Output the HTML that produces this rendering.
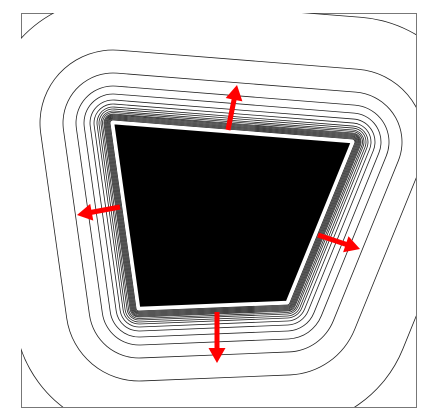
<!DOCTYPE html>
<html><head><meta charset="utf-8"><style>
html,body{margin:0;padding:0;background:#fff;}
svg{display:block;}
</style></head><body>
<svg id="fig" width="437" height="417" viewBox="0 0 437 417" xmlns="http://www.w3.org/2000/svg">
<defs><clipPath id="clip"><rect x="21" y="13" width="395" height="394"/></clipPath></defs>
<rect x="21.5" y="13.5" width="395" height="394" fill="#fff" stroke="#777" stroke-width="1"/>
<g id="contours" clip-path="url(#clip)"></g>
<g id="arrows"></g>
</svg>
<script>
const vertsX = [113, 352, 287, 139];
const vertsY = [123, 142, 302, 308];
const offsets = [125, 73, 50, 37, 29, 23, 19, 16, 14, 12, 10.5, 9, 8, 7, 6, 5, 4, 3];
const arrowFromX = [228, 120, 318, 217];
const arrowFromY = [130, 207, 235, 312];
const arrowToX = [237, 77, 360, 217];
const arrowToY = [85, 215, 249, 363];
const NS = 'http://www.w3.org/2000/svg';
const pts = vertsX.map((x, i) => x + ',' + vertsY[i]).join(' ');
const g = document.getElementById('contours');
offsets.slice().sort((a, b) => b - a).forEach((d, i) => {
  const outer = document.createElementNS(NS, 'polygon');
  
  
  outer.setAttribute('points', pts);
  outer.setAttribute('fill', '#222');
  outer.setAttribute('stroke', '#222');
  outer.setAttribute('stroke-linejoin', 'round');
  outer.setAttribute('stroke-width', 2 * d + 0.8);
  g.appendChild(outer);
  const inner = document.createElementNS(NS, 'polygon');
  
  
  inner.setAttribute('points', pts);
  inner.setAttribute('fill', '#fff');
  inner.setAttribute('stroke', '#fff');
  inner.setAttribute('stroke-linejoin', 'round');
  inner.setAttribute('stroke-width', Math.max(2 * d - 0.8, 0));
  g.appendChild(inner);
});
const shape = document.createElementNS(NS, 'polygon');


shape.setAttribute('points', pts);
shape.setAttribute('fill', '#000');
shape.setAttribute('stroke', '#fff');
shape.setAttribute('stroke-width', '2.5');
g.appendChild(shape);
const ag = document.getElementById('arrows');
arrowFromX.forEach((x0, i) => {
  const y0 = arrowFromY[i], x1 = arrowToX[i], y1 = arrowToY[i];
  const dx = x1 - x0, dy = y1 - y0, L = Math.hypot(dx, dy);
  const ux = dx / L, uy = dy / L, px = -uy, py = ux;
  const hl = 15, hw = 8.5, sw = 2.5;
  const bx = x1 - ux * hl, by = y1 - uy * hl;
  const p = [
    [x0 + px * sw, y0 + py * sw], [bx + px * sw, by + py * sw], [bx + px * hw, by + py * hw],
    [x1, y1], [bx - px * hw, by - py * hw], [bx - px * sw, by - py * sw], [x0 - px * sw, y0 - py * sw]
  ].map(q => q[0].toFixed(1) + ',' + q[1].toFixed(1)).join(' ');
  const a = document.createElementNS(NS, 'polygon');
  
  
  a.setAttribute('points', p);
  a.setAttribute('fill', '#f00');
  ag.appendChild(a);
});
</script>
</body></html>
